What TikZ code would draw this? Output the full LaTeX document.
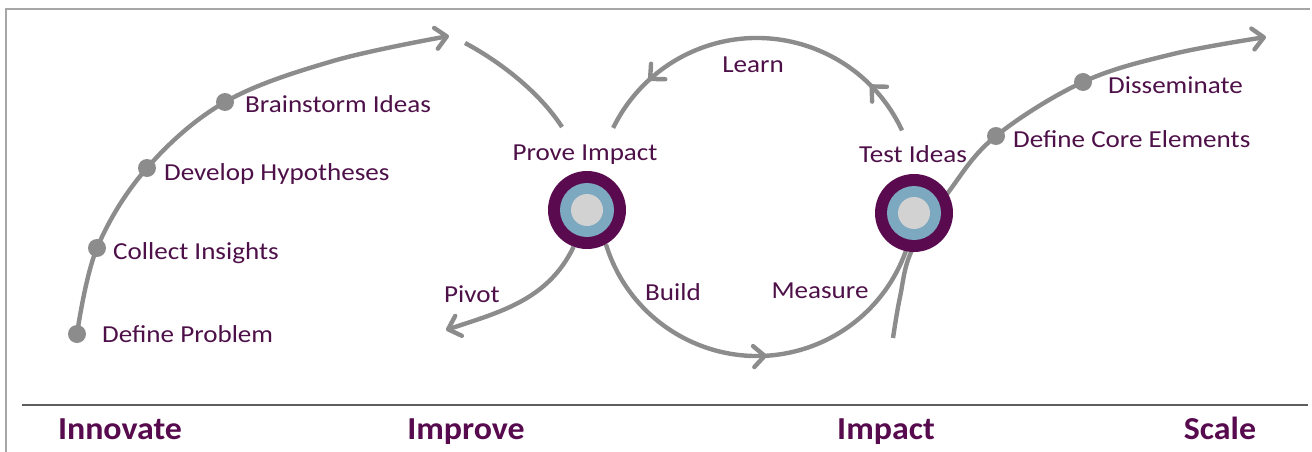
\documentclass[tikz,border=0pt]{standalone}
\usepackage{fontspec}
\setmainfont{Carlito}
\newfontfamily\labfont[FakeStretch=1.11]{Carlito}
\newfontfamily\stagefont[FakeStretch=1.06]{Carlito}
\usetikzlibrary{arrows.meta,decorations.markings}
\pgfdeclarelayer{bg}
\pgfsetlayers{bg,main}
\definecolor{linegray}{HTML}{8C8C8C}
\definecolor{txtpurple}{HTML}{4E1048}
\definecolor{stagepurple}{HTML}{570A4E}
\definecolor{ringpurple}{HTML}{5A0A4E}
\definecolor{ringblue}{HTML}{7CA8C0}
\definecolor{ringgray}{HTML}{D2D2D2}
\definecolor{framegray}{HTML}{A6A6A6}
\definecolor{sepgray}{HTML}{5E5E5E}
\tikzset{
  conn/.style={draw=linegray, line width=4.4pt},
  tipd/.tip={Straight Barb[length=11pt,width=21pt,round]},
  dot/.style={circle, fill=linegray, minimum size=18pt, inner sep=0pt},
  ring/.style={circle, fill=ringpurple, minimum size=78pt, inner sep=0pt,
    path picture={\fill[ringblue] (path picture bounding box.center) circle[radius=27pt];
                  \fill[ringgray] (path picture bounding box.center) circle[radius=16pt];}},
  lab/.style={font=\labfont\fontsize{24.4}{28}\selectfont, text=txtpurple, inner sep=0pt},
  stage/.style={font=\stagefont\bfseries\fontsize{32}{36}\selectfont, text=stagepurple, inner sep=0pt},
}
\begin{document}
\begin{tikzpicture}[x=1pt,y=-1pt]
\useasboundingbox (0,0) rectangle (1312,452);
% frame and separator
\draw[framegray, line width=2pt] (6,452) -- (6,9) -- (1310,9);
\draw[sepgray, line width=2pt] (22,405) -- (1308,405);

% dots
\node[dot] (dp) at (77,334) {};
\node[dot] (ci) at (97,248) {};
\node[dot] (dh) at (147,168) {};
\node[dot] (bi) at (225,102) {};
\node[dot] (dc) at (996,136) {};
\node[dot] (ds) at (1083,82) {};

% rings
\node[ring] (prove) at (587,210) {};
\node[ring] (test) at (914,213) {};

% coordinates
\coordinate (la1) at (333,61);
\coordinate (latip) at (449,36);
\coordinate (ma1) at (465,43);
\coordinate (ma2) at (562,127);
\coordinate (pivtip) at (446,330);
\coordinate (loopc) at (757,198);
\coordinate (rs0) at (893,338);
\coordinate (rs1) at (900,297);
\coordinate (rs2) at (912,250);
\coordinate (rs3) at (950,190);
\coordinate (rs4) at (1173,54);
\coordinate (rstip) at (1266,37);

% labels
\node[lab, anchor=base west] (tdp) at (102,342) {Define Problem};
\node[lab, anchor=base west] (tci) at (113,259) {Collect Insights};
\node[lab, anchor=base west] (tdh) at (164,180) {Develop Hypotheses};
\node[lab, anchor=base west] (tbi) at (245,112) {Brainstorm Ideas};
\node[lab, anchor=base west] (tds) at (1108,93) {Disseminate};
\node[lab, anchor=base west] (tdc) at (1013,147) {Define Core Elements};
\node[lab, anchor=base] (tpi) at (585,160) {Prove Impact};
\node[lab, anchor=base] (tti) at (913,162) {Test Ideas};
\node[lab, anchor=base] (tle) at (753,73) {Learn};
\node[lab, anchor=base] (tpv) at (472,302) {Pivot};
\node[lab, anchor=base] (tbu) at (673,300) {Build};
\node[lab, anchor=base] (tme) at (820,298) {Measure};

\node[stage, anchor=base] (sinn) at (120,439) {Innovate};
\node[stage, anchor=base] (simp) at (466,439) {Improve};
\node[stage, anchor=base] (sipa) at (886,439) {Impact};
\node[stage, anchor=base] (ssca) at (1220,439) {Scale};

\begin{pgfonlayer}{bg}
% left rising curve
\draw[conn, -tipd] plot[smooth, tension=0.6] coordinates {(dp.center) (ci.center) (dh.center) (bi.center) (la1) (latip)};
% falling arc to Prove Impact
\draw[conn] (ma1) .. controls (497,60) and (538,90) .. (ma2);
% pivot
\draw[conn, -tipd] (prove.250) .. controls (548,300) and (500,312) .. (pivtip);
% upper loop (Learn)
\draw[conn, postaction={decorate, decoration={markings,
    mark=at position 0.155 with {\arrow{tipd}},
    mark=at position 0.835 with {\arrow{tipd}}}}]
  (loopc) ++(-25:160) arc[start angle=-25, end angle=-154, radius=160];
% lower loop (Build / Measure)
\draw[conn, postaction={decorate, decoration={markings,
    mark=at position 0.53 with {\arrow{tipd}}}}]
  (loopc) ++(-197:158) arc[start angle=-197, end angle=-341.5, radius=158];
% right rising curve
\draw[conn, -tipd] plot[smooth, tension=0.6] coordinates {(rs0) (rs1) (rs2) (rs3) (dc.center) (ds.center) (rs4) (rstip)};
\end{pgfonlayer}
\end{tikzpicture}
\end{document}
